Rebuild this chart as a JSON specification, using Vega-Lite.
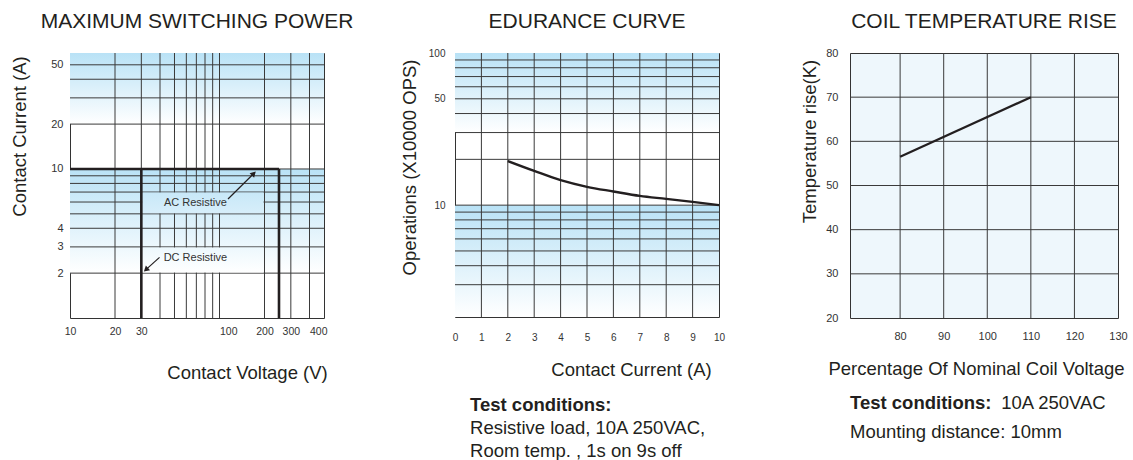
{
  "$schema": "https://vega.github.io/schema/vega-lite/v6.json",
  "background": "white",
  "autosize": {"type": "pad"},
  "padding": {"left": 9, "top": 10, "right": 5, "bottom": 5},
  "config": {
    "font": "Liberation Sans",
    "view": {"stroke": "#333333", "strokeWidth": 1},
    "title": {"fontSize": 21, "fontWeight": "normal", "color": "#231f20", "anchor": "middle", "frame": "group", "baseline": "alphabetic", "offset": 20},
    "axis": {"domain": false, "ticks": false, "tickSize": 0, "grid": false, "labelFontSize": 11, "labelColor": "#333333", "titleFontSize": 18.5, "titleFontWeight": "normal", "titleColor": "#231f20", "labelFlush": false, "labelOverlap": false, "titleAlign": "center", "titleBaseline": "middle"}
  },
  "datasets": {
    "leftBands": [{"x": 10, "x2": 500, "y": 20, "y2": 60}, {"x": 10, "x2": 500, "y": 2, "y2": 10}],
    "leftGridX": [{"v": 20}, {"v": 30}, {"v": 40}, {"v": 50}, {"v": 60}, {"v": 70}, {"v": 80}, {"v": 90}, {"v": 100}, {"v": 200}, {"v": 300}, {"v": 400}],
    "leftGridY": [{"v": 2}, {"v": 3}, {"v": 4}, {"v": 5}, {"v": 6}, {"v": 7}, {"v": 8}, {"v": 9}, {"v": 10}, {"v": 20}, {"v": 30}, {"v": 40}, {"v": 50}],
    "leftBoxes": [{"name": "AC", "x": 30.4, "x2": 197, "y": 5.04, "y2": 6.95}, {"name": "DC", "x": 30.4, "x2": 197, "y": 2.02, "y2": 2.97}],
    "leftLimits": [{"x": 10, "x2": 250, "y": 10, "y2": 10}, {"x": 250, "x2": 250, "y": 10, "y2": 1}, {"x": 30, "x2": 30, "y": 10, "y2": 1}],
    "leftArrows": [{"label": "AC Resistive", "x": 114, "y": 6.29, "hx": 169.6, "hy": 9.33}, {"label": "DC Resistive", "x": 39.7, "y": 2.55, "hx": 32.2, "hy": 2.11}],
    "leftLabels": [{"label": "AC Resistive", "x": 69, "y": 5.88}, {"label": "DC Resistive", "x": 69, "y": 2.51}],
    "midBands": [{"x": 0, "x2": 10, "y": 30, "y2": 100}, {"x": 0, "x2": 10, "y": 1.84, "y2": 10}],
    "midGridX": [{"v": 1}, {"v": 2}, {"v": 3}, {"v": 4}, {"v": 5}, {"v": 6}, {"v": 7}, {"v": 8}, {"v": 9}],
    "midGridY": [{"v": 3}, {"v": 4}, {"v": 5}, {"v": 6}, {"v": 7}, {"v": 8}, {"v": 9}, {"v": 10}, {"v": 20}, {"v": 30}, {"v": 40}, {"v": 50}, {"v": 60}, {"v": 70}, {"v": 80}, {"v": 90}],
    "midCurve": [{"current": 2, "ops": 19.5}, {"current": 3, "ops": 16.8}, {"current": 4, "ops": 14.6}, {"current": 5, "ops": 13.2}, {"current": 6, "ops": 12.3}, {"current": 7, "ops": 11.5}, {"current": 8, "ops": 11.0}, {"current": 9, "ops": 10.5}, {"current": 10, "ops": 10.0}],
    "midNotes": [{"line": 1, "pos": 5.7, "text": "Test conditions:", "w": "bold"}, {"line": 2, "pos": 5.7, "text": "Resistive load, 10A 250VAC,", "w": "normal"}, {"line": 3, "pos": 5.7, "text": "Room temp. , 1s on 9s off", "w": "normal"}],
    "rightGridX": [{"v": 80}, {"v": 90}, {"v": 100}, {"v": 110}, {"v": 120}],
    "rightGridY": [{"v": 30}, {"v": 40}, {"v": 50}, {"v": 60}, {"v": 70}],
    "rightLine": [{"voltage": 80, "rise": 56.5}, {"voltage": 110, "rise": 70}],
    "rightNotes": [{"line": 1, "pos": 0, "text": "Test conditions:", "w": "bold"}, {"line": 1, "pos": 56.4, "text": "10A 250VAC", "w": "normal"}, {"line": 2, "pos": 0, "text": "Mounting distance: 10mm", "w": "normal"}]
  },
  "spacing": 131,
  "bounds": "flush",
  "hconcat": [
    {
      "width": 254,
      "height": 265,
      "title": {"text": "MAXIMUM SWITCHING POWER", "offset": 21},
      "layer": [
        {
          "data": {"name": "leftBands"},
          "mark": {"type": "rect", "fill": {"gradient": "linear", "x1": 0, "y1": 0, "x2": 0, "y2": 1, "stops": [{"offset": 0, "color": "#b9e2f6"}, {"offset": 1, "color": "#ffffff"}]}},
          "encoding": {
            "x": {"field": "x", "type": "quantitative", "scale": {"type": "log", "domain": [10, 500], "nice": false},
              "axis": {"values": [10, 20, 30, 100, 200, 300, 400], "labelExpr": "'' + datum.value", "labelFontSize": 10.5, "labelPadding": 8,
                "labelAlign": {"condition": {"test": "datum.value == 100 || datum.value == 400", "value": "left"}, "value": "center"},
                "title": "Contact Voltage (V)", "titleX": 177, "titleY": 54}},
            "x2": {"field": "x2"},
            "y": {"field": "y", "type": "quantitative", "scale": {"type": "log", "domain": [1, 60], "nice": false},
              "axis": {"values": [2, 3, 4, 10, 20, 50], "labelExpr": "'' + datum.value", "labelPadding": 7, "title": "Contact Current (A)", "titleX": -51, "titleY": 83}},
            "y2": {"field": "y2"}
          }
        },
        {
          "data": {"name": "leftGridX"},
          "mark": {"type": "rule", "color": "#3a3a3a", "strokeWidth": 1},
          "encoding": {"x": {"field": "v", "type": "quantitative"}}
        },
        {
          "data": {"name": "leftGridY"},
          "mark": {"type": "rule", "color": "#3a3a3a", "strokeWidth": 1},
          "encoding": {"y": {"field": "v", "type": "quantitative"}}
        },
        {
          "data": {"name": "leftBoxes"},
          "transform": [{"filter": "datum.name == 'AC'"}],
          "mark": {"type": "rect", "fill": {"gradient": "linear", "x1": 0, "y1": 0, "x2": 0, "y2": 1, "stops": [{"offset": 0, "color": "#c8e8f8"}, {"offset": 1, "color": "#d7eefa"}]}},
          "encoding": {"x": {"field": "x", "type": "quantitative"}, "x2": {"field": "x2"}, "y": {"field": "y", "type": "quantitative"}, "y2": {"field": "y2"}}
        },
        {
          "data": {"name": "leftBoxes"},
          "transform": [{"filter": "datum.name == 'DC'"}],
          "mark": {"type": "rect", "fill": {"gradient": "linear", "x1": 0, "y1": 0, "x2": 0, "y2": 1, "stops": [{"offset": 0, "color": "#edf8fd"}, {"offset": 1, "color": "#ffffff"}]}},
          "encoding": {"x": {"field": "x", "type": "quantitative"}, "x2": {"field": "x2"}, "y": {"field": "y", "type": "quantitative"}, "y2": {"field": "y2"}}
        },
        {
          "data": {"name": "leftLimits"},
          "mark": {"type": "rule", "color": "#231f20", "strokeWidth": 2.6},
          "encoding": {"x": {"field": "x", "type": "quantitative"}, "x2": {"field": "x2"}, "y": {"field": "y", "type": "quantitative"}, "y2": {"field": "y2"}}
        },
        {
          "data": {"name": "leftArrows"},
          "mark": {"type": "rule", "color": "#231f20", "strokeWidth": 1.2},
          "encoding": {"x": {"field": "x", "type": "quantitative"}, "x2": {"field": "hx"}, "y": {"field": "y", "type": "quantitative"}, "y2": {"field": "hy"}}
        },
        {
          "data": {"name": "leftArrows"},
          "transform": [{"filter": "datum.label == 'AC Resistive'"}],
          "mark": {"type": "point", "shape": "triangle-up", "filled": true, "color": "#231f20", "opacity": 1, "size": 40, "angle": 45},
          "encoding": {"x": {"field": "hx", "type": "quantitative"}, "y": {"field": "hy", "type": "quantitative"}}
        },
        {
          "data": {"name": "leftArrows"},
          "transform": [{"filter": "datum.label == 'DC Resistive'"}],
          "mark": {"type": "point", "shape": "triangle-up", "filled": true, "color": "#231f20", "opacity": 1, "size": 40, "angle": 228},
          "encoding": {"x": {"field": "hx", "type": "quantitative"}, "y": {"field": "hy", "type": "quantitative"}}
        },
        {
          "data": {"name": "leftLabels"},
          "mark": {"type": "text", "fontSize": 11, "color": "#333333", "align": "center", "baseline": "middle"},
          "encoding": {"x": {"field": "x", "type": "quantitative"}, "y": {"field": "y", "type": "quantitative"}, "text": {"field": "label"}}
        }
      ]
    },
    {
      "width": 264,
      "height": 264,
      "title": {"text": "EDURANCE CURVE", "offset": 15.7},
      "resolve": {"scale": {"x": "independent", "y": "independent"}},
      "layer": [
        {
          "layer": [
            {
              "data": {"name": "midBands"},
              "mark": {"type": "rect", "fill": {"gradient": "linear", "x1": 0, "y1": 0, "x2": 0, "y2": 1, "stops": [{"offset": 0, "color": "#b9e2f6"}, {"offset": 1, "color": "#ffffff"}]}},
              "encoding": {
                "x": {"field": "x", "type": "quantitative", "scale": {"domain": [0, 10], "nice": false},
                  "axis": {"values": [0, 1, 2, 3, 4, 5, 6, 7, 8, 9, 10], "tickCount": 11, "labelOverlap": false, "labelFontSize": 10, "labelPadding": 15, "title": "Contact Current (A)", "titleX": 176, "titleY": 52}},
                "x2": {"field": "x2"},
                "y": {"field": "y", "type": "quantitative", "scale": {"type": "log", "domain": [1.84, 100], "nice": false},
                  "axis": {"values": [10, 50, 100], "labelExpr": "'' + datum.value", "labelFontSize": 10, "labelPadding": 10, "title": "Operations (X10000 OPS)", "titleX": -46, "titleY": 114}},
                "y2": {"field": "y2"}
              }
            },
            {
              "data": {"name": "midGridX"},
              "mark": {"type": "rule", "color": "#3a3a3a", "strokeWidth": 1},
              "encoding": {"x": {"field": "v", "type": "quantitative", "axis": {"values": [0, 1, 2, 3, 4, 5, 6, 7, 8, 9, 10], "tickCount": 11, "labelOverlap": false}}}
            },
            {
              "data": {"name": "midGridY"},
              "mark": {"type": "rule", "color": "#3a3a3a", "strokeWidth": 1},
              "encoding": {"y": {"field": "v", "type": "quantitative"}}
            },
            {
              "data": {"name": "midCurve"},
              "mark": {"type": "line", "color": "#231f20", "strokeWidth": 2.4, "interpolate": "monotone"},
              "encoding": {"x": {"field": "current", "type": "quantitative", "axis": {"values": [0, 1, 2, 3, 4, 5, 6, 7, 8, 9, 10], "tickCount": 11, "labelOverlap": false}}, "y": {"field": "ops", "type": "quantitative"}}
            }
          ]
        },
        {
          "data": {"name": "midNotes"},
          "encoding": {
            "x": {"field": "pos", "type": "quantitative", "scale": {"domain": [0, 100]}, "axis": null},
            "y": {"field": "line", "type": "quantitative", "scale": {"domain": [-14.3043, -2.826], "reverse": true, "nice": false, "zero": false}, "axis": null},
            "text": {"field": "text"}
          },
          "layer": [
            {"transform": [{"filter": "datum.w == 'bold'"}], "mark": {"type": "text", "align": "left", "baseline": "middle", "fontSize": 18.5, "fontWeight": "bold", "color": "#231f20"}},
            {"transform": [{"filter": "datum.w == 'normal'"}], "mark": {"type": "text", "align": "left", "baseline": "middle", "fontSize": 18.5, "color": "#231f20"}}
          ]
        }
      ]
    },
    {
      "width": 268,
      "height": 265,
      "title": {"text": "COIL TEMPERATURE RISE", "offset": 15.2},
      "view": {"fill": "#eef7fc", "stroke": "#333333"},
      "resolve": {"scale": {"x": "independent", "y": "independent"}},
      "layer": [
        {
          "layer": [
            {
              "data": {"name": "rightGridX"},
              "mark": {"type": "rule", "color": "#3a3a3a", "strokeWidth": 1},
              "encoding": {"x": {"field": "v", "type": "quantitative", "scale": {"domain": [68.5, 130], "nice": false},
                "axis": {"values": [80, 90, 100, 110, 120, 130], "labelPadding": 12, "title": "Percentage Of Nominal Coil Voltage", "titleX": 126, "titleY": 50}}}
            },
            {
              "data": {"name": "rightGridY"},
              "mark": {"type": "rule", "color": "#3a3a3a", "strokeWidth": 1},
              "encoding": {"y": {"field": "v", "type": "quantitative", "scale": {"domain": [20, 80], "nice": false},
                "axis": {"values": [20, 30, 40, 50, 60, 70, 80], "labelPadding": 12, "title": "Temperature rise(K)", "titleX": -41, "titleY": 88}}}
            },
            {
              "data": {"name": "rightLine"},
              "mark": {"type": "line", "color": "#231f20", "strokeWidth": 2.2},
              "encoding": {"x": {"field": "voltage", "type": "quantitative"}, "y": {"field": "rise", "type": "quantitative"}}
            }
          ]
        },
        {
          "data": {"name": "rightNotes"},
          "encoding": {
            "x": {"field": "pos", "type": "quantitative", "scale": {"domain": [0, 100]}, "axis": null},
            "y": {"field": "line", "type": "quantitative", "scale": {"domain": [-11.069, -1.931], "reverse": true, "nice": false, "zero": false}, "axis": null},
            "text": {"field": "text"}
          },
          "layer": [
            {"transform": [{"filter": "datum.w == 'bold'"}], "mark": {"type": "text", "align": "left", "baseline": "middle", "fontSize": 18.5, "fontWeight": "bold", "color": "#231f20"}},
            {"transform": [{"filter": "datum.w == 'normal'"}], "mark": {"type": "text", "align": "left", "baseline": "middle", "fontSize": 18.5, "color": "#231f20"}}
          ]
        }
      ]
    }
  ]
}
